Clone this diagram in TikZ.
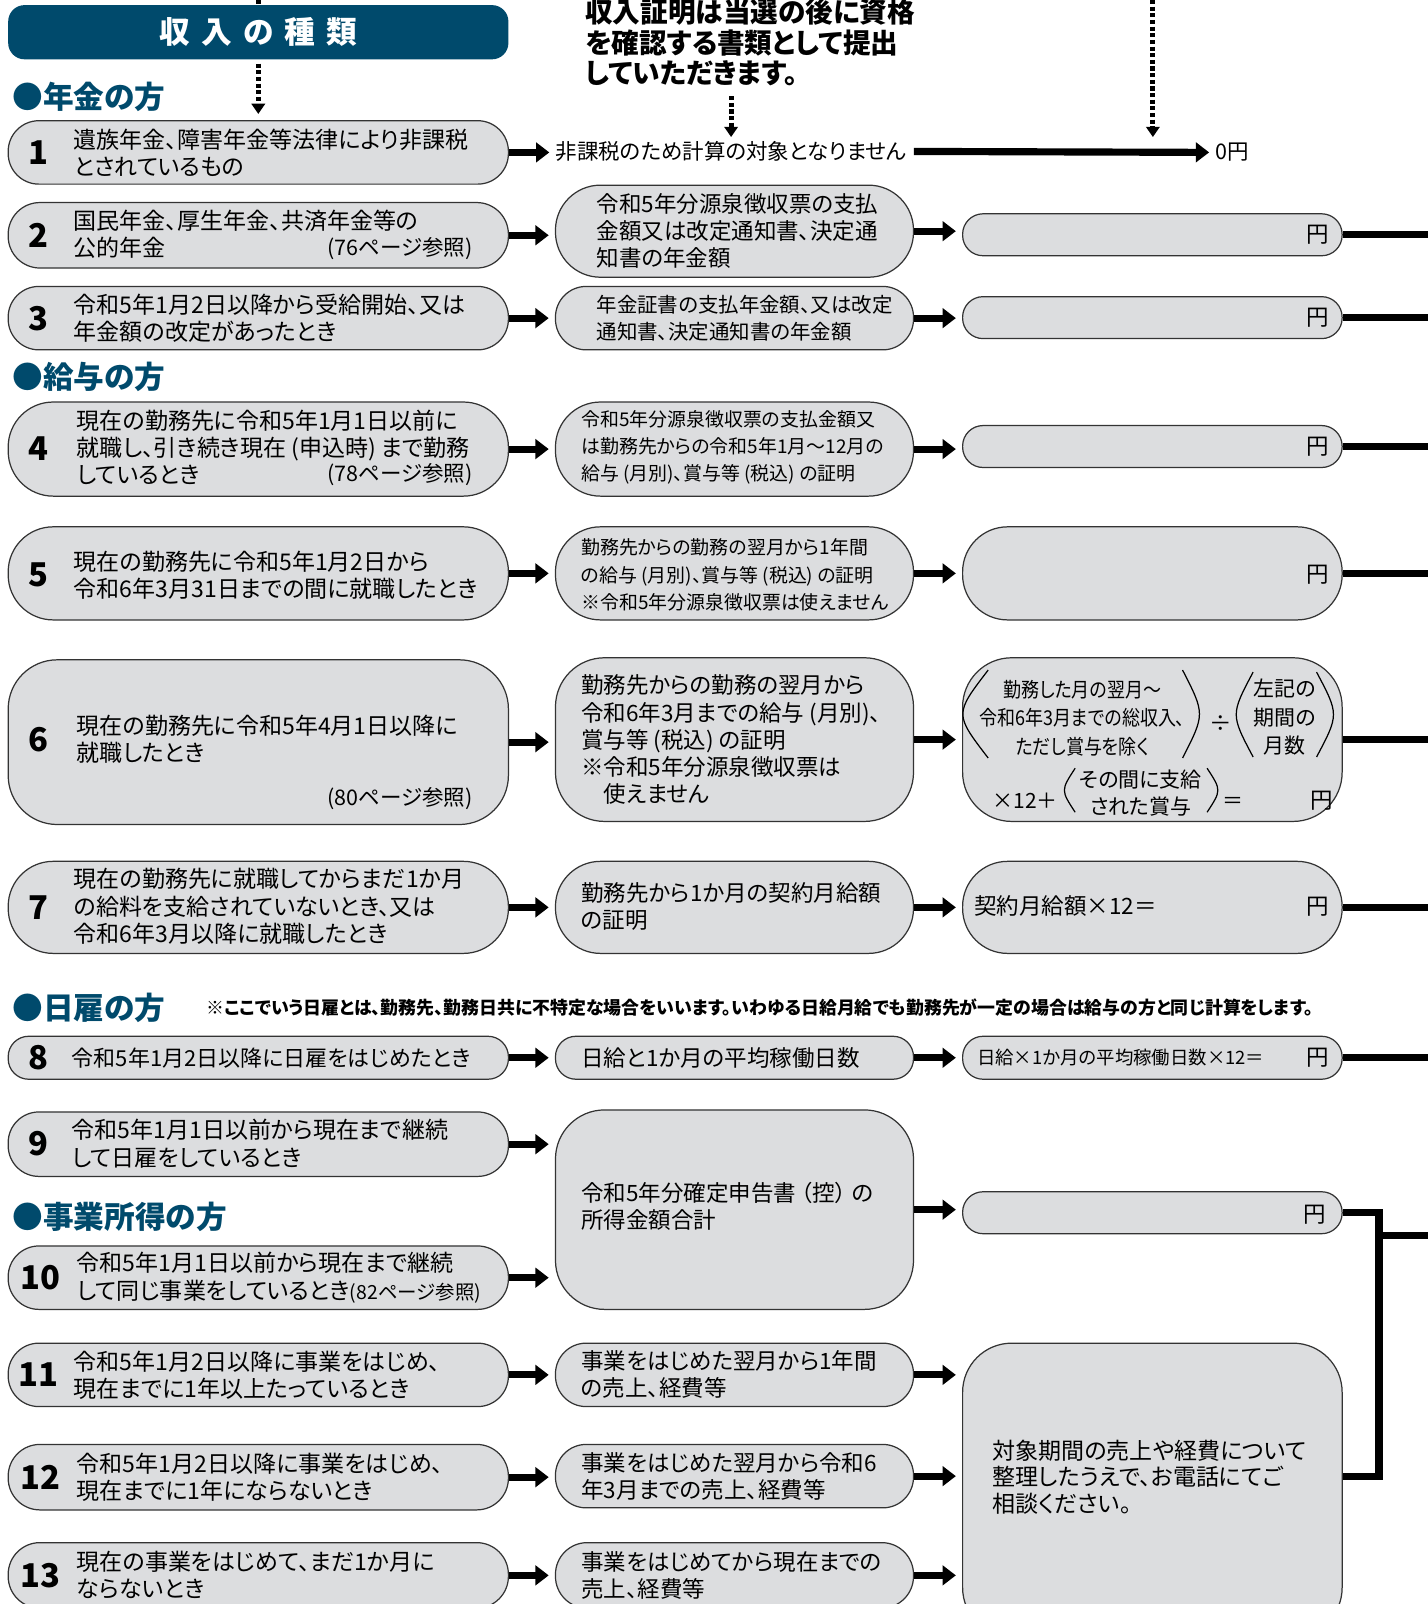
\documentclass[tikz,border=0pt]{standalone}
\usepackage{fontspec}
\setmainfont{Noto Sans CJK JP}[RawFeature=+palt]
\usepackage{xcolor}
\definecolor{KindTeal}{HTML}{004A6C}
\definecolor{BoxGray}{HTML}{DCDDDF}
\definecolor{EdgeGray}{HTML}{333333}
\usetikzlibrary{arrows.meta,positioning}
\newcommand{\parenarc}[4]{\draw[arcline] (#1,#2) .. controls (#4,{(#2+#3)/2}) .. (#1,#3);}

\begin{document}
\begin{tikzpicture}[x=1pt,y=-1pt,
  pill/.style={draw=EdgeGray, fill=BoxGray, line width=1.2pt, rounded corners=#1, inner sep=0pt},
  pill/.default=30pt,
  num/.style={font=\fontsize{32}{32}\selectfont\bfseries, inner sep=0pt},
  rowtext/.style={font=\fontsize{22.5}{26.5}\selectfont, align=left, anchor=west, inner sep=0pt},
  midtext/.style={font=\fontsize{22}{26.5}\selectfont, align=left, anchor=west, inner sep=0pt},
  smalltext/.style={font=\fontsize{20}{26.5}\selectfont, align=left, anchor=west, inner sep=0pt},
  reftext/.style={font=\fontsize{21}{24}\selectfont, anchor=east, inner sep=0pt},
  yen/.style={font=\fontsize{22}{24}\selectfont, inner sep=0pt},
  head/.style={font=\fontsize{30}{30}\selectfont\bfseries, text=KindTeal, anchor=west, inner sep=0pt},
  heavy/.style={line width=7pt},
  fat/.style={line width=7pt, -{Triangle[length=13pt,width=19pt]}, shorten >=6pt},
  dotarrow/.style={line width=5pt, dash pattern=on 4pt off 2.5pt, -{Triangle[length=10pt,width=13pt]}},
  arcline/.style={line width=1.2pt}
]
\useasboundingbox (0,0) rectangle (1395,1568);
\coordinate (edge) at (1400,0);

% header and headings
\node[fill=KindTeal, rounded corners=16pt, minimum width=489pt, minimum height=53pt, text=white,
  font=\fontsize{30}{30}\selectfont\bfseries] (hd) at (252.5,31.5)
  {収\hspace{11pt}入\hspace{11pt}の\hspace{11pt}種\hspace{11pt}類};
\node[font=\fontsize{27}{29.5}\selectfont\bfseries, align=left, anchor=west, inner sep=0pt] (nt) at (572,41.5)
  {収入証明は当選の後に資格\\を確認する書類として提出\\していただきます。};
\node[head] (h1) at (12,95) {●年金の方};
\node[head] (h2) at (12,368) {●給与の方};
\node[head] (h3) at (12,985) {●日雇の方};
\node[head] (h4) at (12,1190) {●事業所得の方};
\node[font=\fontsize{17.5}{20}\selectfont\bfseries, anchor=west, inner sep=0pt] (hnote) at (202,985)
  {※ここでいう日雇とは、勤務先、勤務日共に不特定な場合をいいます。いわゆる日給月給でも勤務先が一定の場合は給与の方と同じ計算をします。};

% row 1
\node[pill=30pt, minimum width=489pt, minimum height=62pt] (k1) at (252.5,149) {};
\node[num] (n1) at (38,149) {1};
\node[rowtext] (t1) at (72,149) {遺族年金、障害年金等法律により非課税\\とされているもの};
\node[font=\fontsize{21}{24}\selectfont, anchor=west, inner sep=0pt] (z1) at (543,148) {非課税のため計算の対象となりません};
\node[font=\fontsize{21}{24}\selectfont, anchor=west, inner sep=0pt] (z2) at (1188,149) {0円};

% row 2
\node[pill=31pt, minimum width=489pt, minimum height=64pt] (k2) at (252.5,230) {};
\node[num] (n2) at (38,230) {2};
\node[rowtext] (t2) at (72,229) {国民年金、厚生年金、共済年金等の\\公的年金};
\node[reftext] (p2) at (462,243) {(76ページ参照)};
\node[pill=44pt, minimum width=350pt, minimum height=90pt] (m2) at (718,226) {};
\node[midtext] (u2) at (583,226) {令和5年分源泉徴収票の支払\\金額又は改定通知書、決定通\\知書の年金額};
\node[pill=20pt, minimum width=371pt, minimum height=41pt] (r2) at (1126.5,229.5) {};
\node[yen] (y2) at (1288,229) {円};

% row 3
\node[pill=30pt, minimum width=489pt, minimum height=62pt] (k3) at (252.5,311) {};
\node[num] (n3) at (38,311) {3};
\node[rowtext] (t3) at (72,311) {令和5年1月2日以降から受給開始、又は\\年金額の改定があったとき};
\node[pill=30pt, minimum width=350pt, minimum height=62pt] (m3) at (718,311) {};
\node[smalltext] (u3) at (583,311) {年金証書の支払年金額、又は改定\\通知書、決定通知書の年金額};
\node[pill=20pt, minimum width=371pt, minimum height=41pt] (r3) at (1126.5,310.5) {};
\node[yen] (y3) at (1288,311) {円};

% row 4
\node[pill=44pt, minimum width=489pt, minimum height=92pt] (k4) at (252.5,439) {};
\node[num] (n4) at (38,439) {4};
\node[rowtext] (t4) at (75,437) {現在の勤務先に令和5年1月1日以前に\\就職し、引き続き現在 (申込時) まで勤務\\しているとき};
\node[reftext] (p4) at (462,464) {(78ページ参照)};
\node[pill=44pt, minimum width=350pt, minimum height=92pt] (m4) at (718,439) {};
\node[smalltext, font=\fontsize{18.5}{26.5}\selectfont] (u4) at (568,437) {令和5年分源泉徴収票の支払金額又\\は勤務先からの令和5年1月～12月の\\給与 (月別)、賞与等 (税込) の証明};
\node[pill=20pt, minimum width=371pt, minimum height=41pt] (r4) at (1126.5,436.5) {};
\node[yen] (y4) at (1288,437) {円};

% row 5
\node[pill=44pt, minimum width=489pt, minimum height=91pt] (k5) at (252.5,560.5) {};
\node[num] (n5) at (38,562) {5};
\node[rowtext] (t5) at (72,562) {現在の勤務先に令和5年1月2日から\\令和6年3月31日までの間に就職したとき};
\node[pill=44pt, minimum width=350pt, minimum height=91pt] (m5) at (718,560.5) {};
\node[smalltext, font=\fontsize{18.5}{26.5}\selectfont] (u5) at (568,562) {勤務先からの勤務の翌月から1年間\\の給与 (月別)、賞与等 (税込) の証明\\※令和5年分源泉徴収票は使えません};
\node[pill=44pt, minimum width=371pt, minimum height=91pt] (r5) at (1126.5,560.5) {};
\node[yen] (y5) at (1288,562) {円};

% row 6
\node[pill=48pt, minimum width=489pt, minimum height=161pt] (k6) at (252.5,725.5) {};
\node[num] (n6) at (38,723) {6};
\node[rowtext] (t6) at (75,723) {現在の勤務先に令和5年4月1日以降に\\就職したとき};
\node[reftext] (p6) at (462,781) {(80ページ参照)};
\node[pill=48pt, minimum width=350pt, minimum height=160pt] (m6) at (718,723) {};
\node[midtext] (u6) at (568,723) {勤務先からの勤務の翌月から\\令和6年3月までの給与 (月別)、\\賞与等 (税込) の証明\\※令和5年分源泉徴収票は\\\quad 使えません};
\node[pill=48pt, minimum width=371pt, minimum height=160pt] (r6) at (1126.5,723) {};
\node[font=\fontsize{20}{28}\selectfont\addfontfeature{FakeStretch=0.88}, align=center, inner sep=0pt] (f1) at (1058,702) {勤務した月の翌月～\\令和6年3月までの総収入、\\ただし賞与を除く};
\node[font=\fontsize{22}{24}\selectfont, inner sep=0pt] (dv) at (1193,707) {÷};
\node[font=\fontsize{20.5}{28}\selectfont, align=center, inner sep=0pt] (f2) at (1256,701) {左記の\\期間の\\月数};
\node[font=\fontsize{20.5}{24}\selectfont, inner sep=0pt] (f3) at (1002,783) {×12＋};
\node[font=\fontsize{20.5}{26}\selectfont, align=center, inner sep=0pt] (f4) at (1115,775) {その間に支給\\された賞与};
\node[font=\fontsize{20.5}{24}\selectfont, inner sep=0pt] (eq) at (1205,785) {＝};
\node[yen] (y6) at (1292,783) {円};
\parenarc{966}{655}{741}{933}
\parenarc{1156}{655}{741}{1178}
\parenarc{1225}{657}{740}{1203}
\parenarc{1287}{657}{740}{1309}
\parenarc{1051}{751}{794}{1037}
\parenarc{1180}{751}{794}{1194}

% row 7
\node[pill=44pt, minimum width=489pt, minimum height=90pt] (k7) at (252.5,887) {};
\node[num] (n7) at (38,887) {7};
\node[rowtext] (t7) at (72,886) {現在の勤務先に就職してからまだ1か月\\の給料を支給されていないとき、又は\\令和6年3月以降に就職したとき};
\node[pill=44pt, minimum width=350pt, minimum height=90pt] (m7) at (718,887) {};
\node[midtext] (u7) at (568,886) {勤務先から1か月の契約月給額\\の証明};
\node[pill=44pt, minimum width=371pt, minimum height=90pt] (r7) at (1126.5,887) {};
\node[midtext] (w7) at (952,886) {契約月給額×12＝};
\node[yen] (y7) at (1288,886) {円};

% row 8
\node[pill=20pt, minimum width=489pt, minimum height=42pt] (k8) at (252.5,1034) {};
\node[num] (n8) at (38,1034) {8};
\node[rowtext, font=\fontsize{21.5}{26.5}\selectfont] (t8) at (70,1034) {令和5年1月2日以降に日雇をはじめたとき};
\node[pill=20pt, minimum width=350pt, minimum height=42pt] (m8) at (718,1034) {};
\node[midtext] (u8) at (568,1034) {日給と1か月の平均稼働日数};
\node[pill=20pt, minimum width=371pt, minimum height=42pt] (r8) at (1126.5,1034) {};
\node[font=\fontsize{18}{20}\selectfont, anchor=west, inner sep=0pt] (w8) at (955,1034) {日給×1か月の平均稼働日数×12＝};
\node[yen] (y8) at (1288,1034) {円};

% rows 9 and 10
\node[pill=30pt, minimum width=489pt, minimum height=63pt] (k9) at (252.5,1118.5) {};
\node[num] (n9) at (38,1118) {9};
\node[rowtext] (t9) at (70,1118) {令和5年1月1日以前から現在まで継続\\して日雇をしているとき};
\node[pill=48pt, minimum width=350pt, minimum height=195pt] (m9) at (718,1182.5) {};
\node[midtext] (u9) at (568,1179) {令和5年分確定申告書\hspace{5pt}（控）\hspace{5pt}の\\所得金額合計};
\node[pill=20pt, minimum width=371pt, minimum height=41pt] (r9) at (1126.5,1185.5) {};
\node[yen] (y9) at (1285,1187) {円};
\node[pill=30pt, minimum width=489pt, minimum height=62pt] (k10) at (252.5,1249) {};
\node[num] (n10) at (40,1249) {10};
\node[rowtext] (t10) at (75,1249) {令和5年1月1日以前から現在まで継続\\して同じ事業をしているとき{\fontsize{19}{26.5}\selectfont (82ページ参照)}};

% rows 11 to 13
\node[pill=30pt, minimum width=489pt, minimum height=62pt] (k11) at (252.5,1344) {};
\node[num] (n11) at (38,1344) {11};
\node[rowtext] (t11) at (72,1344) {令和5年1月2日以降に事業をはじめ、\\現在までに1年以上たっているとき};
\node[pill=30pt, minimum width=350pt, minimum height=62pt] (m11) at (718,1344) {};
\node[midtext] (u11) at (568,1344) {事業をはじめた翌月から1年間\\の売上、経費等};
\node[pill=31pt, minimum width=489pt, minimum height=64pt] (k12) at (252.5,1444) {};
\node[num] (n12) at (40,1444) {12};
\node[rowtext] (t12) at (75,1444) {令和5年1月2日以降に事業をはじめ、\\現在までに1年にならないとき};
\node[pill=30pt, minimum width=350pt, minimum height=62pt] (m12) at (718,1443) {};
\node[midtext] (u12) at (568,1443) {事業をはじめた翌月から令和6\\年3月までの売上、経費等};
\node[pill=31pt, minimum width=489pt, minimum height=64pt] (k13) at (252.5,1540) {};
\node[num] (n13) at (40,1540) {13};
\node[rowtext] (t13) at (75,1540) {現在の事業をはじめて、まだ1か月に\\ならないとき};
\node[pill=31pt, minimum width=350pt, minimum height=64pt] (m13) at (718,1540) {};
\node[midtext] (u13) at (568,1540) {事業をはじめてから現在までの\\売上、経費等};
\node[pill=48pt, minimum width=371pt, minimum height=287pt] (bb) at (1126.5,1456.5) {};
\node[font=\fontsize{22.5}{26}\selectfont, align=left, anchor=west, inner sep=0pt] (bt) at (970,1444) {対象期間の売上や経費について\\整理したうえで、お電話にてご\\相談ください。};

% connectors
\coordinate (top0) at (252.5,0);
\coordinate (top1) at (1127,0);
\draw[line width=5pt, dash pattern=on 4pt off 2.5pt] (top0) -- (hd.north);
\draw[dotarrow, shorten <=4pt, shorten >=6pt] (hd.south) -- (k1.north);
\draw[dotarrow, shorten <=10pt, shorten >=4pt] (z1.north |- nt.south) -- (z1.north);
\draw[dotarrow, shorten >=4pt] (top1) -- (top1 |- z1.north);
\draw[fat] (k1.east) -- (k1.east -| z1.west);
\draw[fat, shorten <=7pt, shorten >=6pt] (z1.east) -- (z2.west);
\foreach \a/\b in {k2/m2,k3/m3,k4/m4,k5/m5,k6/m6,k7/m7,k8/m8,k9/m9,k10/m9,k11/m11,k12/m12,k13/m13,
    m2/r2,m3/r3,m4/r4,m5/r5,m6/r6,m7/r7,m8/r8,m9/r9,m11/bb,m12/bb,m13/bb}
  \draw[fat] (\a.east) -- (\a.east -| \b.west);
\foreach \r in {r2,r3,r4,r5,r6,r7,r8}
  \draw[heavy] (\r.east) -- (\r.east -| edge);
\coordinate (bj) at (1348,1208);
\draw[heavy, line join=miter] (r9.east) -| (bj) |- (bb.east |- m12.east);
\draw[heavy] (bj) -- (bj -| edge);
\end{tikzpicture}
\end{document}
